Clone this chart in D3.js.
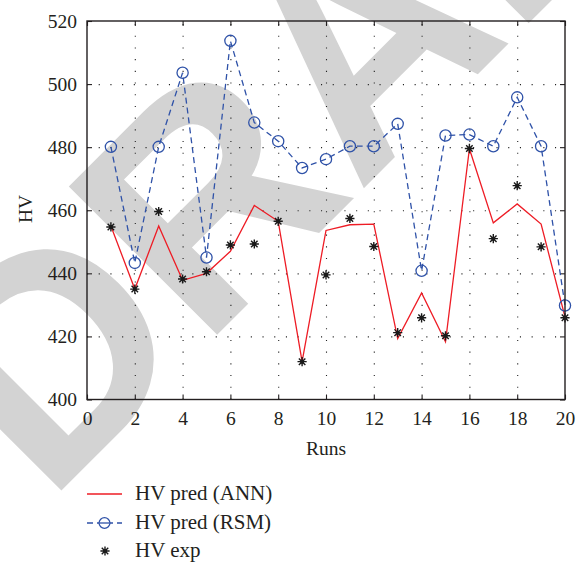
<!DOCTYPE html>
<html>
<head>
<meta charset="utf-8">
<script src="https://cdn.jsdelivr.net/npm/d3@7"></script>
<style>
  body { margin: 0; background: #fff; }
</style>
</head>
<body>
<svg id="chart" width="578" height="563"></svg>
<script>
// Data
const runs = [1, 2, 3, 4, 5, 6, 7, 8, 9, 10, 11, 12, 13, 14, 15, 16, 17, 18, 19, 20];
const annPred = [455, 435, 455, 437.8, 440, 447, 461.5, 456.5, 412, 453.6, 455.4, 455.6, 419.3, 433.8, 418.3, 479.5, 456, 462, 455.6, 426.2];
const rsmPred = [480.1, 443.3, 480.1, 503.6, 445, 513.7, 487.8, 481.9, 473.4, 476.2, 480.3, 480.3, 487.4, 440.8, 483.7, 484, 480.3, 495.8, 480.3, 429.8];
const expHV = [454.7, 435, 459.6, 438.2, 440.5, 449, 449.3, 456.5, 412, 439.5, 457.4, 448.5, 421.2, 425.9, 420.2, 479.6, 451, 467.8, 448.4, 425.9];
const xTicks = [0, 2, 4, 6, 8, 10, 12, 14, 16, 18, 20];
const yTicks = [400, 420, 440, 460, 480, 500, 520];
const legendLabels = ["HV pred (ANN)", "HV pred (RSM)", "HV exp"];

const SERIF = '"Liberation Serif", "DejaVu Serif", serif';
const INK = "#231f20";
const RED = "#ee1c25";
const BLUE = "#2f52a8";

const svg = d3.select("#chart");
const plot = { left: 87, top: 21, right: 565, bottom: 399.5 };
const x = d3.scaleLinear().domain([0, 20]).range([plot.left, plot.right]);
const y = d3.scaleLinear().domain([400, 520]).range([plot.bottom, plot.top]);

// grey watermark behind everything
svg.append("text")
  .attr("transform", "translate(47,505) rotate(-45)")
  .style("font-family", '"Liberation Sans", Arial, sans-serif')
  .style("font-weight", "bold")
  .style("font-size", "305px")
  .style("fill", "#d3d3d3")
  .text("DRAFT");

// dotted grid
const gridX = svg.append("g")
  .attr("transform", `translate(0,${plot.bottom})`)
  .call(d3.axisBottom(x).tickValues(xTicks.slice(1, -1)).tickSize(-(plot.bottom - plot.top)).tickFormat(""));
const gridY = svg.append("g")
  .attr("transform", `translate(${plot.left},0)`)
  .call(d3.axisLeft(y).tickValues(yTicks.slice(1, -1)).tickSize(-(plot.right - plot.left)).tickFormat(""));
[gridX, gridY].forEach(g => {
  g.select(".domain").remove();
  g.selectAll("line").attr("stroke", "#222").attr("stroke-width", 1.1).attr("stroke-dasharray", "1.1,10.6");
});

// axes with inward ticks
const axisBottom = svg.append("g")
  .attr("transform", `translate(0,${plot.bottom})`)
  .call(d3.axisBottom(x).tickValues(xTicks).tickSizeInner(-5).tickSizeOuter(0).tickPadding(12));
const axisLeft = svg.append("g")
  .attr("transform", `translate(${plot.left},0)`)
  .call(d3.axisLeft(y).tickValues(yTicks).tickSizeInner(-5).tickSizeOuter(0).tickPadding(10));
const axisTop = svg.append("g")
  .attr("transform", `translate(0,${plot.top})`)
  .call(d3.axisTop(x).tickValues(xTicks).tickSizeInner(-5).tickSizeOuter(0).tickFormat(""));
const axisRight = svg.append("g")
  .attr("transform", `translate(${plot.right},0)`)
  .call(d3.axisRight(y).tickValues(yTicks).tickSizeInner(-5).tickSizeOuter(0).tickFormat(""));
[axisBottom, axisLeft, axisTop, axisRight].forEach(g => {
  g.attr("font-family", null).attr("font-size", null);
  g.select(".domain").remove();
  g.selectAll("line").attr("stroke", INK).attr("stroke-width", 1.1);
  g.selectAll("text").style("font-family", SERIF).style("font-size", "19.5px").style("fill", INK);
});

// axis titles
svg.append("text")
  .attr("x", x(10)).attr("y", 455)
  .attr("text-anchor", "middle")
  .style("font-family", SERIF).style("font-size", "19.5px").style("fill", INK)
  .text("Runs");
svg.append("text")
  .attr("transform", "translate(32,209) rotate(-90)")
  .attr("text-anchor", "middle")
  .style("font-family", SERIF).style("font-size", "19.5px").style("fill", INK)
  .text("HV");

// series
const line = d3.line().x(d => x(d[0])).y(d => y(d[1]));
const annPts = runs.map((r, i) => [r, annPred[i]]);
const rsmPts = runs.map((r, i) => [r, rsmPred[i]]);
const expPts = runs.map((r, i) => [r, expHV[i]]);

svg.append("path").datum(rsmPts)
  .attr("d", line).attr("fill", "none")
  .attr("stroke", BLUE).attr("stroke-width", 1.3).attr("stroke-dasharray", "6,4");
svg.append("path").datum(annPts)
  .attr("d", line).attr("fill", "none")
  .attr("stroke", RED).attr("stroke-width", 1.3);

svg.selectAll(".rsm").data(rsmPts).join("circle")
  .attr("class", "rsm")
  .attr("cx", d => x(d[0])).attr("cy", d => y(d[1])).attr("r", 5.6)
  .attr("fill", "none").attr("stroke", BLUE).attr("stroke-width", 1.3);

// 8-arm star marker
function starPath(r) {
  const p = d3.path();
  for (let k = 0; k < 4; k++) {
    const a = k * Math.PI / 4;
    p.moveTo(-r * Math.cos(a), -r * Math.sin(a));
    p.lineTo(r * Math.cos(a), r * Math.sin(a));
  }
  return p.toString();
}
function drawStar(g) {
  g.append("path").attr("d", starPath(4.6)).attr("stroke", "#1a1a1a").attr("stroke-width", 1.4).attr("fill", "none");
  g.append("circle").attr("r", 2).attr("fill", "#1a1a1a");
}
svg.selectAll(".exp").data(expPts).join("g")
  .attr("class", "exp")
  .attr("transform", d => `translate(${x(d[0])},${y(d[1])})`)
  .each(function () { drawStar(d3.select(this)); });

// frame
svg.append("rect")
  .attr("x", plot.left).attr("y", plot.top)
  .attr("width", plot.right - plot.left).attr("height", plot.bottom - plot.top)
  .attr("fill", "none").attr("stroke", INK).attr("stroke-width", 1.4);

// legend
const legendY = [494, 523, 551];
const lg = svg.append("g");
lg.append("line").attr("x1", 87).attr("x2", 122).attr("y1", legendY[0]).attr("y2", legendY[0])
  .attr("stroke", RED).attr("stroke-width", 1.3);
lg.append("line").attr("x1", 87).attr("x2", 122).attr("y1", legendY[1]).attr("y2", legendY[1])
  .attr("stroke", BLUE).attr("stroke-width", 1.3).attr("stroke-dasharray", "6,4");
lg.append("circle").attr("cx", 104.5).attr("cy", legendY[1]).attr("r", 5.4)
  .attr("fill", "#fff").attr("stroke", BLUE).attr("stroke-width", 1.3);
lg.append("line").attr("x1", 100).attr("x2", 109).attr("y1", legendY[1]).attr("y2", legendY[1])
  .attr("stroke", BLUE).attr("stroke-width", 1.3);
drawStar(lg.append("g").attr("transform", `translate(105,${legendY[2]})`));
lg.selectAll(".ltext").data(legendLabels).join("text")
  .attr("class", "ltext")
  .attr("x", 135).attr("y", (d, i) => legendY[i] + 6)
  .style("font-family", SERIF).style("font-size", "21px").style("fill", INK)
  .text(d => d);
</script>
</body>
</html>
